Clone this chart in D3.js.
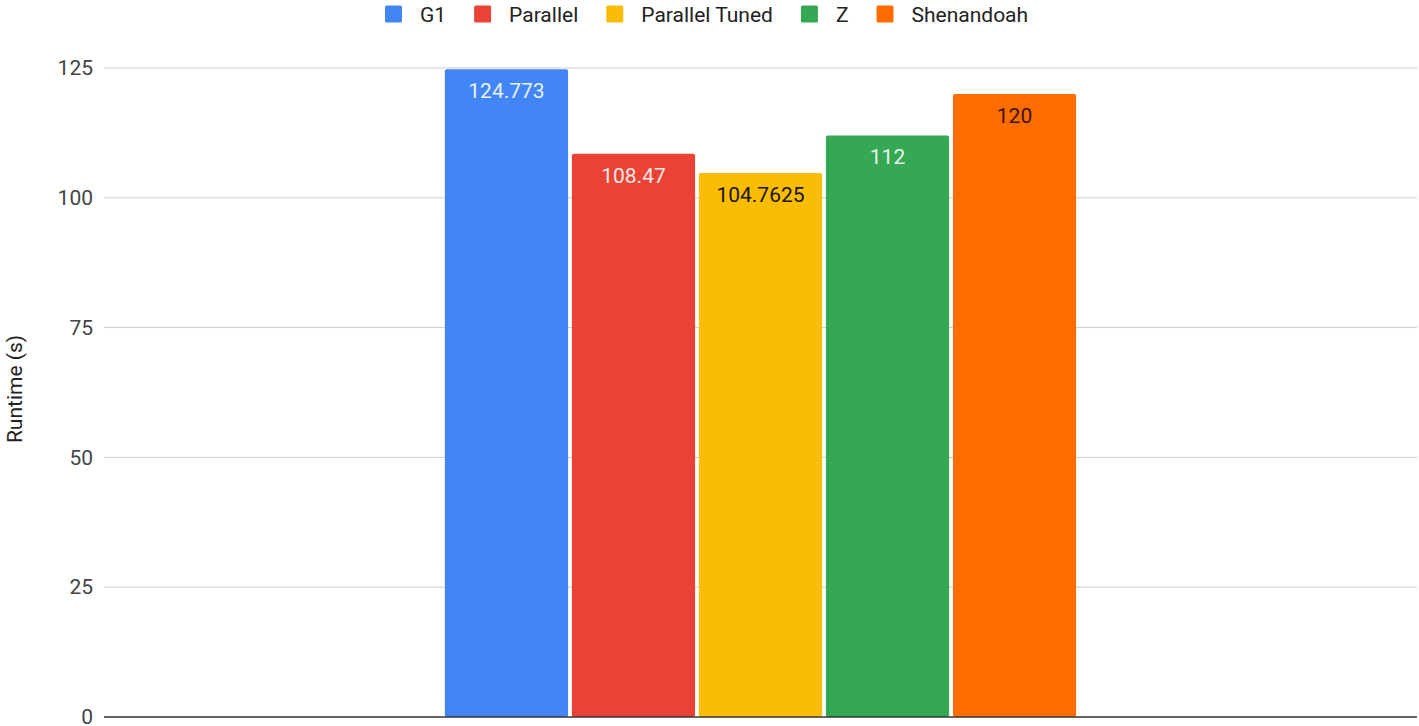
<!DOCTYPE html>
<html>
<head>
<meta charset="utf-8">
<script src="https://cdn.jsdelivr.net/npm/d3@7"></script>
<style>
  html, body { margin: 0; padding: 0; background: #fff; }
  svg { display: block; font-family: Roboto, Arial, sans-serif; }
</style>
</head>
<body>
<svg id="chart" width="1419" height="726"></svg>
<script>
// Runtime per garbage collector
const series = ["G1", "Parallel", "Parallel Tuned", "Z", "Shenandoah"];
const values = [124.773, 108.47, 104.7625, 112, 120];
const labels = ["124.773", "108.47", "104.7625", "112", "120"];
const colors = ["#4285F4", "#EA4335", "#FBBC04", "#34A853", "#FF6D01"];
const labelColors = ["#e8f0fe", "#fce8e6", "#1a1300", "#e6f4ea", "#3a1400"];
const yTicks = [0, 25, 50, 75, 100, 125];
const categories = [""];

const FONT = 21;
const svg = d3.select("#chart");
const margin = { left: 104, right: 2, top: 68, bottom: 9 };
const W = 1419, H = 726;
const plotL = margin.left, plotR = W - margin.right;
const plotT = margin.top, plotB = H - margin.bottom;

const y = d3.scaleLinear().domain([0, 125]).range([plotB, plotT]);
const x0 = d3.scaleBand().domain(categories).range([plotL, plotR])
  .paddingInner(0).paddingOuter(0.535);
const x1 = d3.scaleBand().domain(series).range([0, x0.bandwidth()])
  .paddingInner(0.03).paddingOuter(0.012);

// gridlines
svg.append("g")
  .selectAll("line")
  .data(yTicks.filter(d => d > 0))
  .join("line")
  .attr("x1", plotL).attr("x2", plotR)
  .attr("y1", d => y(d)).attr("y2", d => y(d))
  .attr("stroke", "#cccccc").attr("stroke-width", 1);

// y axis labels
const yAxis = d3.axisLeft(y).tickValues(yTicks).tickSize(0).tickPadding(11);
const ya = svg.append("g").attr("transform", `translate(${plotL},0)`).call(yAxis);
ya.select(".domain").remove();
ya.selectAll("text")
  .attr("font-size", FONT).attr("fill", "#444").attr("font-family", "Roboto, Arial, sans-serif");

// axis title
svg.append("text")
  .attr("transform", `translate(22,${389}) rotate(-90)`)
  .attr("text-anchor", "middle")
  .attr("font-size", FONT).attr("fill", "#222")
  .text("Runtime (s)");

// bars
const g = svg.append("g").attr("transform", `translate(${x0("")},0)`);
g.selectAll("rect")
  .data(series)
  .join("rect")
  .attr("x", d => x1(d))
  .attr("width", x1.bandwidth())
  .attr("y", (d, i) => y(values[i]))
  .attr("height", (d, i) => y(0) - y(values[i]))
  .attr("rx", 2)
  .attr("fill", (d, i) => colors[i]);

// value labels
g.selectAll("text.val")
  .data(series)
  .join("text")
  .attr("class", "val")
  .attr("x", d => x1(d) + x1.bandwidth() / 2)
  .attr("y", (d, i) => y(values[i]) + 29)
  .attr("text-anchor", "middle")
  .attr("font-size", FONT)
  .attr("fill", (d, i) => labelColors[i])
  .text((d, i) => labels[i]);

// baseline
svg.append("line")
  .attr("x1", plotL).attr("x2", plotR)
  .attr("y1", y(0)).attr("y2", y(0))
  .attr("stroke", "#333").attr("stroke-width", 1.5);

// legend: swatch, then label, laid out left to right
const lg = svg.append("g");
let cursor = 385;
series.forEach((s, i) => {
  lg.append("rect")
    .attr("x", cursor).attr("y", 5.5)
    .attr("width", 17).attr("height", 17)
    .attr("rx", 1.5)
    .attr("fill", colors[i]);
  const t = lg.append("text")
    .attr("x", cursor + 35).attr("y", 21.5)
    .attr("font-size", FONT).attr("fill", "#222")
    .text(s);
  cursor += 35 + t.node().getComputedTextLength() + 28;
});
</script>
</body>
</html>
